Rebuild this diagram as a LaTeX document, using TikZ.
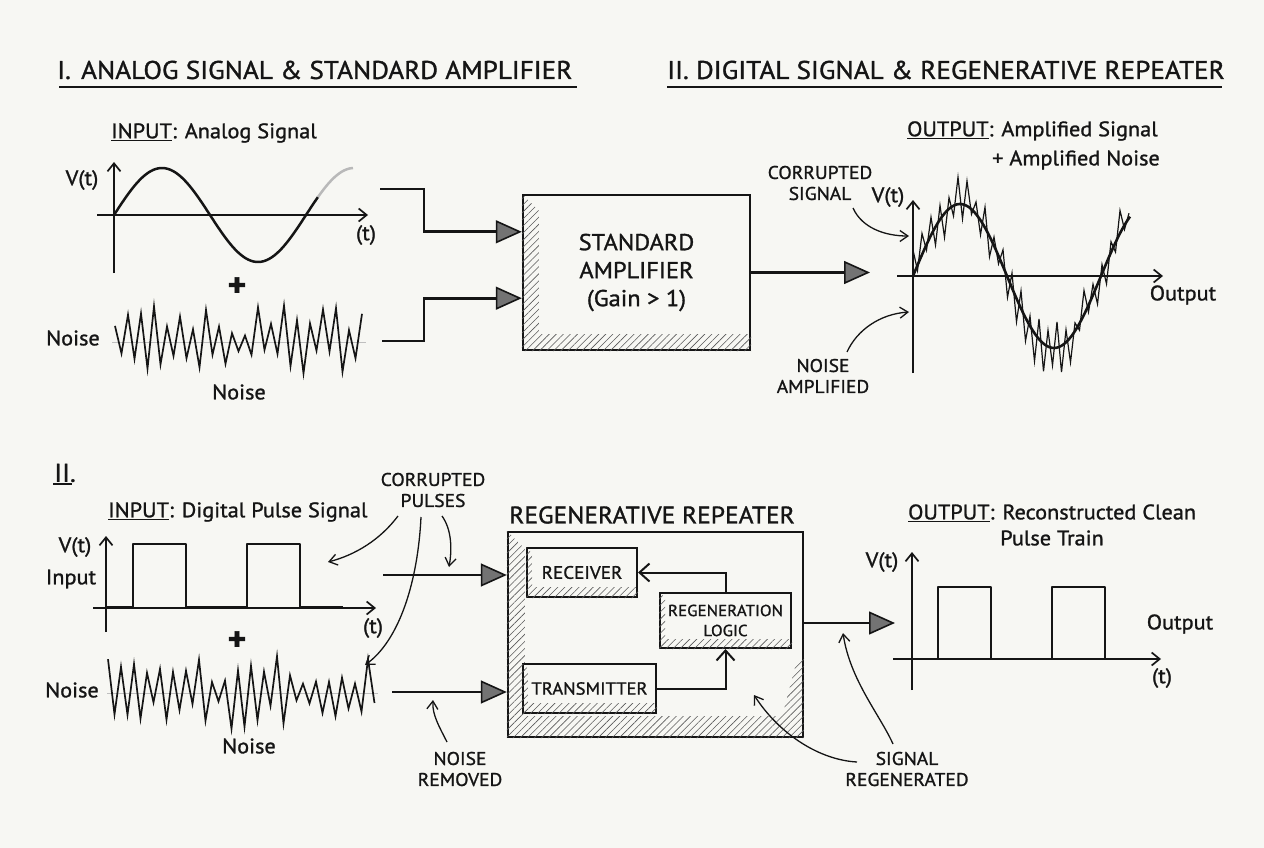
\documentclass[tikz,border=0pt]{standalone}
\usepackage{fontspec}
\setmainfont{PT Sans}[FakeBold=1.2, FakeStretch=1.06]
\usetikzlibrary{arrows.meta,patterns.meta,calc}
\definecolor{bgcol}{HTML}{F7F7F3}
\definecolor{ink}{HTML}{151515}
\tikzset{
  head/.style={font=\fontsize{25.6}{28}\selectfont, inner sep=0pt, text=ink},
  lab/.style={font=\fontsize{21}{25}\selectfont, inner sep=0pt, text=ink},
  small/.style={font=\fontsize{18.4}{21}\selectfont, inner sep=0pt, align=center, text=ink},
  boxlab/.style={font=\fontsize{18}{21}\selectfont, align=center, text=ink},
  frame/.style={draw=ink, line width=2.4pt, inner sep=0pt},
  subframe/.style={draw=ink, line width=2pt, inner sep=0pt},
  hatch/.style={pattern={Lines[angle=45,distance=5pt,line width=0.6pt]}, pattern color=black!65},
  axis/.style={draw=ink, line width=1.7pt, -{Straight Barb[length=8pt,width=13pt]}},
  wave/.style={draw=ink, line width=2.5pt, line join=round},
  noisy/.style={draw=ink, line width=1.7pt, line join=miter},
  bigarrow/.style={draw=ink, line width=2.8pt, -{Triangle[length=26pt,width=23pt,fill=black!55,line width=1.6pt]}},
  openarrow/.style={draw=ink, line width=2pt, -{Straight Barb[length=10pt,width=18pt]}},
  callout/.style={draw=ink, line width=1.3pt, -{Straight Barb[length=8pt,width=11pt]}},
}
\begin{document}
\begin{tikzpicture}[x=1pt,y=-1pt]
\useasboundingbox[fill=bgcol] (0,0) rectangle (1264,848);

% ---------- headings
\node[head, anchor=west] (h1) at (57,70) {I.\hspace{0.4em}ANALOG SIGNAL \& STANDARD AMPLIFIER};
\draw[ink, line width=2pt] (59,87) -- (577,87);
\node[head, anchor=west] (h2) at (667,70) {II. DIGITAL SIGNAL \& REGENERATIVE REPEATER};
\draw[ink, line width=2pt] (667,87) -- (1222,87);

% ---------- top input
\node[lab, anchor=west] (in1) at (111,133) {\underline{INPUT}: Analog Signal};
\node[lab] (v1) at (82,180) {V(t)};
\draw[axis] (114,273) -- (114,162);
\draw[axis] (97,215) -- (368,215);
\node[lab] (t1) at (366,235) {(t)};
\draw[wave] plot[domain=114:318, samples=80] (\x, {215-47*sin((\x-114)/96*180)});
\draw[wave, draw=gray!55] plot[domain=318:353, samples=20] (\x, {215-47*sin((\x-114)/96*180)});
\node[lab, font=\fontsize{34}{34}\selectfont\bfseries] (plus1) at (237,287) {+};
\node[lab] (nz1l) at (73,338) {Noise};
\draw[gray!50, line width=0.6pt] (112,342) -- (366,342);
\pgfmathsetseed{11}
\draw[noisy] plot[domain=0:38, samples=39] ({115+\x*6.5}, {342+(mod(round(\x),2)*2-1)*(7+29*rnd)+6*(rnd-0.5)});
\node[lab] (nz1b) at (239,392) {Noise};

% ---------- amplifier
\node[frame, minimum width=227pt, minimum height=155pt] (amp) at (636.5,272.5) {};
\fill[hatch] (amp.north west) -- ++(17,17) -- ($(amp.south west)+(17,-17)$) -- ($(amp.south east)+(0,-17)$) -- (amp.south east) -- (amp.south west) -- cycle;
\node[font=\fontsize{23}{28}\selectfont, align=center, text=ink] (ampt) at (amp.center) {STANDARD\\AMPLIFIER\\(Gain > 1)};
\coordinate (c1) at (380,189);
\coordinate (c2) at (382,341);
\draw[bigarrow] (c1) -- (424,189) |- ($(amp.north west)+(0,38)$);
\draw[bigarrow] (c2) -- (424,341) |- ($(amp.south west)+(0,-53)$);
\coordinate (o1) at (870,272.5);
\draw[bigarrow] (amp.east) -- (o1);

% ---------- top output
\node[lab, anchor=west] (out1) at (907,131) {\underline{OUTPUT}: Amplified Signal};
\node[lab, anchor=east] (out1b) at (1160,160) {+ Amplified Noise};
\node[lab] (v2) at (888,197) {V(t)};
\draw[axis] (913,373) -- (913,200);
\draw[axis] (897,276) -- (1163,276);
\node[lab] (outl) at (1183,295) {Output};
\pgfmathsetseed{5}
\draw[ink, line width=1.2pt, line join=miter] plot[domain=0:48, samples=49] ({913+\x*4.5}, {276-72*sin(\x*4.5/94*180)+(mod(round(\x),2)*2-1)*(4+24*rnd)});
\draw[wave, line width=2.6pt] plot[domain=913:1130, samples=90] (\x, {276-72*sin((\x-913)/94*180)});
\node[small] (cs) at (820,183) {CORRUPTED\\SIGNAL};
\coordinate (cs-s) at (853,208);
\coordinate (cs-t) at (909,236);
\draw[callout] (cs-s) .. controls (862,228) and (885,236) .. (cs-t);
\node[small] (na) at (823,376) {NOISE\\AMPLIFIED};
\coordinate (na-s) at (847,352);
\coordinate (na-t) at (909,312);
\draw[callout] (na-s) .. controls (857,330) and (880,314) .. (na-t);

% ---------- bottom input
\node[head] (h3) at (65,473) {II.};
\draw[ink, line width=1.6pt] (53,484) -- (72,484);
\node[lab, anchor=west] (in2) at (108,512) {\underline{INPUT}: Digital Pulse Signal};
\node[lab] (v3) at (75,547) {V(t)};
\node[lab] (inp) at (71,579) {Input};
\draw[axis] (106,632) -- (106,536);
\draw[axis] (93,608) -- (376,608);
\draw[wave] (106,607) -- (133,607) -- (133,544) -- (186,544) -- (186,607) -- (247,607) -- (247,544) -- (300,544) -- (300,607) -- (343,607);
\node[lab] (t3) at (373,628) {(t)};
\node[lab, font=\fontsize{34}{34}\selectfont\bfseries] (plus2) at (237,641) {+};
\node[lab] (nz2l) at (72,690) {Noise};
\draw[gray!50, line width=0.6pt] (107,693) -- (378,693);
\pgfmathsetseed{23}
\draw[noisy] plot[domain=0:41, samples=42] ({108+\x*6.5}, {693+(mod(round(\x),2)*2-1)*(7+29*rnd)+6*(rnd-0.5)});
\node[lab] (nz2b) at (249,746) {Noise};

\node[small] (cp) at (433,490) {CORRUPTED\\PULSES};
\coordinate (cp1) at (398,516);
\coordinate (cp2) at (421,517);
\coordinate (cp3) at (442,516);
\coordinate (cp1t) at (328,562);
\coordinate (cp2t) at (365,665);
\coordinate (cp3t) at (449,567);
\draw[callout] (cp1) .. controls (380,540) and (355,555) .. (cp1t);
\draw[callout] (cp2) .. controls (418,580) and (400,640) .. (cp2t);
\draw[callout] (cp3) .. controls (452,530) and (452,550) .. (cp3t);

% ---------- repeater
\node[font=\fontsize{24}{28}\selectfont, text=ink] (rt) at (652,515) {REGENERATIVE REPEATER};
\node[frame, minimum width=295pt, minimum height=205pt] (rep) at (655.5,634.5) {};
\fill[hatch] (rep.north west) -- ++(18,18) -- ($(rep.south west)+(18,-22)$) -- ($(rep.south east)+(-22,-22)$) -- ($(rep.south east)+(-8,-75)$) -- ($(rep.south east)+(0,-80)$) -- (rep.south east) -- (rep.south west) -- cycle;
\node[subframe, minimum width=110pt, minimum height=49pt] (rx) at (582,572.5) {};
\fill[hatch] (rx.north west) -- ++(6,6) -- ($(rx.south west)+(6,-11)$) -- ($(rx.south east)+(0,-11)$) -- (rx.south east) -- (rx.south west) -- cycle;
\node[boxlab] (rxt) at (rx.center) {RECEIVER};
\node[subframe, minimum width=131pt, minimum height=55pt] (rl) at (725.5,620.5) {};
\fill[hatch] (rl.north west) -- ++(6,6) -- ($(rl.south west)+(6,-10)$) -- ($(rl.south east)+(0,-10)$) -- (rl.south east) -- (rl.south west) -- cycle;
\node[boxlab, font=\fontsize{16}{20}\selectfont] (rlt) at (rl.center) {REGENERATION\\LOGIC};
\node[subframe, minimum width=133pt, minimum height=49pt] (tx) at (589.5,688.5) {};
\fill[hatch] (tx.north west) -- ++(6,6) -- ($(tx.south west)+(6,-11)$) -- ($(tx.south east)+(0,-11)$) -- (tx.south east) -- (tx.south west) -- cycle;
\node[boxlab, font=\fontsize{17.5}{21}\selectfont] (txt) at (tx.center) {TRANSMITTER};
\draw[openarrow] (rl.north) |- (rx.east);
\draw[openarrow] (tx.east) -| (rl.south);

\coordinate (d1) at (383,575);
\coordinate (d2) at (392,692);
\draw[bigarrow] (d1) -- (rep.west |- d1);
\draw[bigarrow] (d2) -- (rep.west |- d2);
\node[small] (nr) at (460,769) {NOISE\\REMOVED};
\coordinate (nr-s) at (447,742);
\coordinate (nr-t) at (433,700);
\draw[callout] (nr-s) .. controls (440,728) and (432,715) .. (nr-t);

\coordinate (o2) at (895,623);
\draw[bigarrow] (rep.east |- o2) -- (o2);
\node[small] (sr) at (907,769) {SIGNAL\\REGENERATED};
\coordinate (sr1) at (857,762);
\coordinate (sr1t) at (754,695);
\coordinate (sr2) at (893,744);
\coordinate (sr2t) at (843,633);
\draw[callout] (sr1) .. controls (820,760) and (780,735) .. (sr1t);
\draw[callout] (sr2) .. controls (880,715) and (850,680) .. (sr2t);

% ---------- bottom output
\node[lab, anchor=west] (out2) at (908,513) {\underline{OUTPUT}: Reconstructed Clean};
\node[lab] (out2b) at (1052,538) {Pulse Train};
\node[lab] (v4) at (882,562) {V(t)};
\draw[axis] (912,690) -- (912,552);
\draw[axis] (893,659) -- (1161,659);
\draw[wave] (912,659) -- (938,659) -- (938,587) -- (991,587) -- (991,659) -- (1052,659) -- (1052,587) -- (1105,587) -- (1105,659) -- (1140,659);
\node[lab] (outl2) at (1180,624) {Output};
\node[lab] (t4) at (1162,678) {(t)};
\end{tikzpicture}
\end{document}
